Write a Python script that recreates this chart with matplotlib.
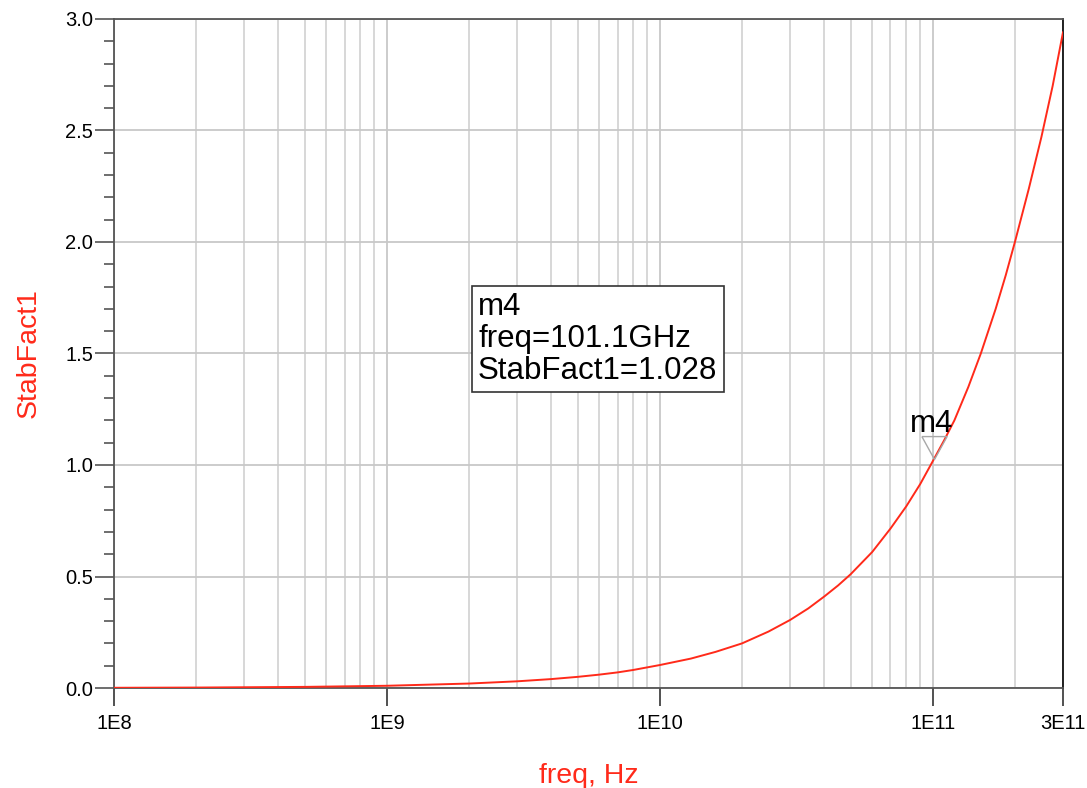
import matplotlib
matplotlib.use("Agg")
import matplotlib.pyplot as plt
from matplotlib.ticker import LogLocator, FixedLocator, MultipleLocator, NullFormatter

# values
freq = [1e8, 2e8, 5e8, 1e9, 2e9, 3e9, 4e9, 5e9, 6e9, 7e9, 8e9, 1e10, 1.3e10,
        1.6e10, 2e10, 2.5e10, 3e10, 3.5e10, 4e10, 4.5e10, 5e10, 6e10, 7e10,
        8e10, 9e10, 1e11, 1.1e11, 1.2e11, 1.35e11, 1.5e11, 1.7e11, 1.85e11,
        2e11, 2.25e11, 2.5e11, 2.75e11, 3e11]
stab = [0.001, 0.002, 0.005, 0.01, 0.02, 0.03, 0.04, 0.05, 0.06, 0.07, 0.081,
        0.103, 0.132, 0.162, 0.20, 0.253, 0.305, 0.357, 0.41, 0.46, 0.51,
        0.61, 0.715, 0.815, 0.915, 1.017, 1.11, 1.20, 1.35, 1.50, 1.70, 1.85,
        2.0, 2.24, 2.47, 2.70, 2.94]

x_ticks = [1e8, 1e9, 1e10, 1e11, 3e11]
x_labels = ["1E8", "1E9", "1E10", "1E11", "3E11"]
marker_freq = 1.011e11
marker_val = 1.028

plt.rcParams['font.family'] = ['Liberation Sans', 'DejaVu Sans']

fig = plt.figure(figsize=(10.87, 7.88), dpi=100)
ax = fig.add_axes([0.1049, 0.1269, 0.873, 0.849])

red = '#ff2a1a'
ax.plot(freq, stab, color=red, linewidth=1.4, zorder=3)

ax.set_xscale('log')
ax.set_xlim(1e8, 3e11)
ax.set_ylim(0, 3.0)

ax.xaxis.set_major_locator(FixedLocator(x_ticks))
ax.set_xticklabels(x_labels)
ax.xaxis.set_minor_locator(LogLocator(base=10, subs=range(2, 10)))
ax.xaxis.set_minor_formatter(NullFormatter())
ax.yaxis.set_major_locator(MultipleLocator(0.5))
ax.yaxis.set_minor_locator(MultipleLocator(0.1))

ax.grid(True, which='major', color='#c8c8c8', linewidth=1.3)
ax.grid(True, which='minor', axis='x', color='#d4d4d4', linewidth=1.3)
ax.set_axisbelow(True)

ax.tick_params(axis='y', which='major', length=14, width=1.2, color='#555555',
               labelsize=14.5, pad=1)
ax.tick_params(axis='y', which='minor', length=7, width=1.2, color='#555555')
ax.tick_params(axis='x', which='major', length=13, width=1.2, color='#333333',
               labelsize=14.5, pad=6)
ax.tick_params(axis='x', which='minor', length=0)

for s in ax.spines.values():
    s.set_color('#555555')
    s.set_linewidth(1.3)
ax.spines['right'].set_color('#111111')

ax.set_xlabel('freq, Hz', color=red, fontsize=20.5, labelpad=21)
ax.set_ylabel('StabFact1', color=red, fontsize=20.5, labelpad=17)

# marker m4
tri = [(-0.55, 1.0), (0.55, 1.0), (0.0, 0.0), (-0.55, 1.0)]
ax.plot([marker_freq], [marker_val], marker=tri, markersize=33,
        markerfacecolor='none', markeredgecolor='#a8a8a8', markeredgewidth=1.0,
        linestyle='none', zorder=4)
ax.annotate('m4', (marker_freq, marker_val), xytext=(-2, 19.5), textcoords='offset points',
            ha='center', va='baseline', fontsize=22.5, zorder=5)

ax.text(0.3836, 0.592, 'm4\nfreq=101.1GHz\nStabFact1=%.3f' % marker_val,
        transform=ax.transAxes, ha='left', va='top', fontsize=22.5, linespacing=1.08,
        bbox=dict(boxstyle='square,pad=0.2', facecolor='white', edgecolor='#333333',
                  linewidth=1.2), zorder=5)

fig.savefig('out.png', dpi=100)
